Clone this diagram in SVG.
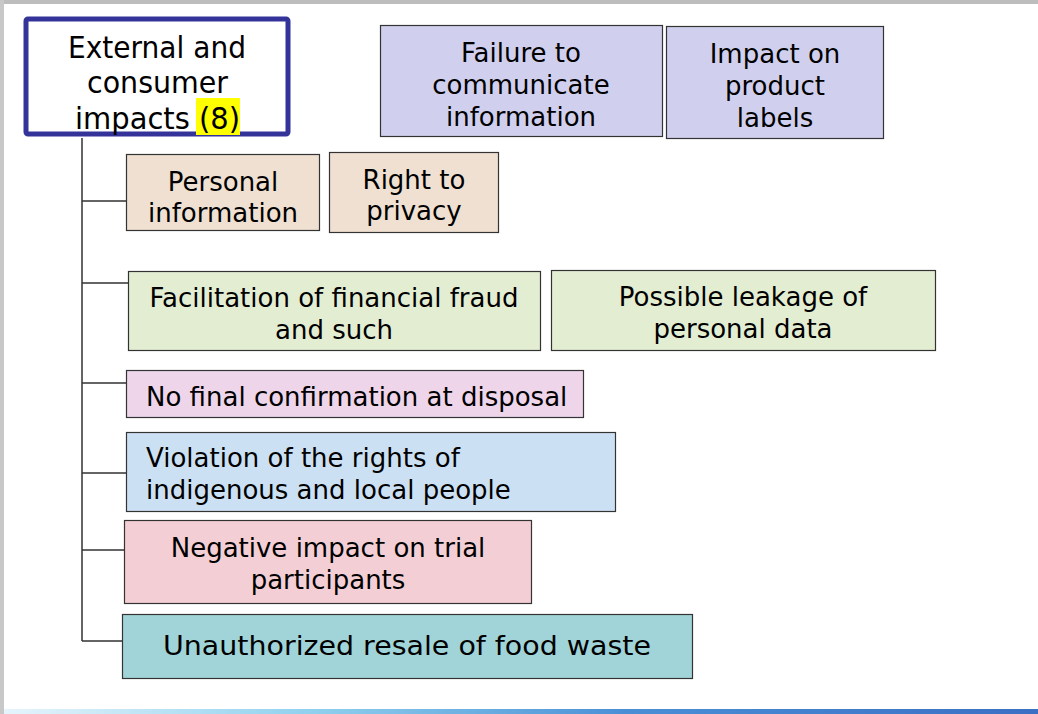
<svg xmlns="http://www.w3.org/2000/svg" width="1038" height="714" viewBox="0 0 1038 714">
<defs>
<linearGradient id="bar" x1="0" y1="0" x2="1" y2="0">
<stop offset="0" stop-color="#e6f4fb"/>
<stop offset="0.3" stop-color="#8fd0ee"/>
<stop offset="0.6" stop-color="#4a8fd6"/>
<stop offset="1" stop-color="#3b6fc4"/>
</linearGradient>
</defs>
<style>
text{font-family:"DejaVu Sans","Liberation Sans",sans-serif;fill:#000;font-size:26px}
.c{text-anchor:middle}
.r{font-size:30px}
.box{stroke:#333;stroke-width:1.2}
.n{stroke:#333;stroke-width:1.5;fill:none}
</style>
<rect width="1038" height="714" fill="#fff"/>
<rect x="0" y="0" width="1038" height="4" fill="#bdbdbd"/>
<rect x="0" y="0" width="4" height="714" fill="#c8c8c8"/>
<rect x="4" y="709" width="1034" height="5" fill="url(#bar)"/>
<g id="connectors">
<path class="n" d="M82 138V641M82 201H126M82 283H128M82 383H126M82 473H126M82 550H124M82 641H122"/>
</g>
<g id="root">
<rect x="26" y="19" width="262" height="115" rx="2" fill="#fff" stroke="#333399" stroke-width="5"/>
<rect x="196" y="98" width="44" height="37" fill="#ffff00"/>
<text class="r" x="68" y="58" textLength="178" lengthAdjust="spacingAndGlyphs">External and</text>
<text class="r" x="87" y="93" textLength="141" lengthAdjust="spacingAndGlyphs">consumer</text>
<text class="r" x="75" y="129" textLength="165" lengthAdjust="spacingAndGlyphs">impacts (8)</text>
</g>
<g id="failure">
<rect class="box" x="380.5" y="25.5" width="282" height="111" fill="#d0d0ee"/>
<text class="c" x="521" y="62">Failure to</text>
<text class="c" x="521" y="94">communicate</text>
<text class="c" x="521" y="126">information</text>
</g>
<g id="labels">
<rect class="box" x="666.5" y="26.5" width="217" height="112" fill="#d0d0ee"/>
<text class="c" x="775" y="63">Impact on</text>
<text class="c" x="775" y="95">product</text>
<text class="c" x="775" y="127">labels</text>
</g>
<g id="personal">
<rect class="box" x="126.5" y="154.5" width="193" height="76" fill="#efe0d2"/>
<text class="c" x="223" y="191">Personal</text>
<text class="c" x="223" y="222">information</text>
</g>
<g id="privacy">
<rect class="box" x="329.5" y="152.5" width="169" height="80" fill="#efe0d2"/>
<text class="c" x="414" y="189">Right to</text>
<text class="c" x="414" y="220">privacy</text>
</g>
<g id="fraud">
<rect class="box" x="128.5" y="271.5" width="412" height="79" fill="#e3edd2"/>
<text class="c" x="334" y="307">Facilitation of financial fraud</text>
<text class="c" x="334" y="339">and such</text>
</g>
<g id="leakage">
<rect class="box" x="551.5" y="270.5" width="384" height="80" fill="#e3edd2"/>
<text class="c" x="743" y="306">Possible leakage of</text>
<text class="c" x="743" y="338">personal data</text>
</g>
<g id="disposal">
<rect class="box" x="126.5" y="370.5" width="457" height="47" fill="#eed5ea"/>
<text x="146" y="406">No final confirmation at disposal</text>
</g>
<g id="indigenous">
<rect class="box" x="126.5" y="432.5" width="489" height="79" fill="#cce0f4"/>
<text x="146" y="467">Violation of the rights of</text>
<text x="146" y="499">indigenous and local people</text>
</g>
<g id="trial">
<rect class="box" x="124.5" y="520.5" width="407" height="83" fill="#f3cfd5"/>
<text class="c" x="328" y="557">Negative impact on trial</text>
<text class="c" x="328" y="589">participants</text>
</g>
<g id="resale">
<rect class="box" x="122.5" y="614.5" width="570" height="64" fill="#a1d4d8"/>
<text class="c" x="407" y="655" font-size="31" textLength="488" lengthAdjust="spacingAndGlyphs">Unauthorized resale of food waste</text>
</g>
</svg>
